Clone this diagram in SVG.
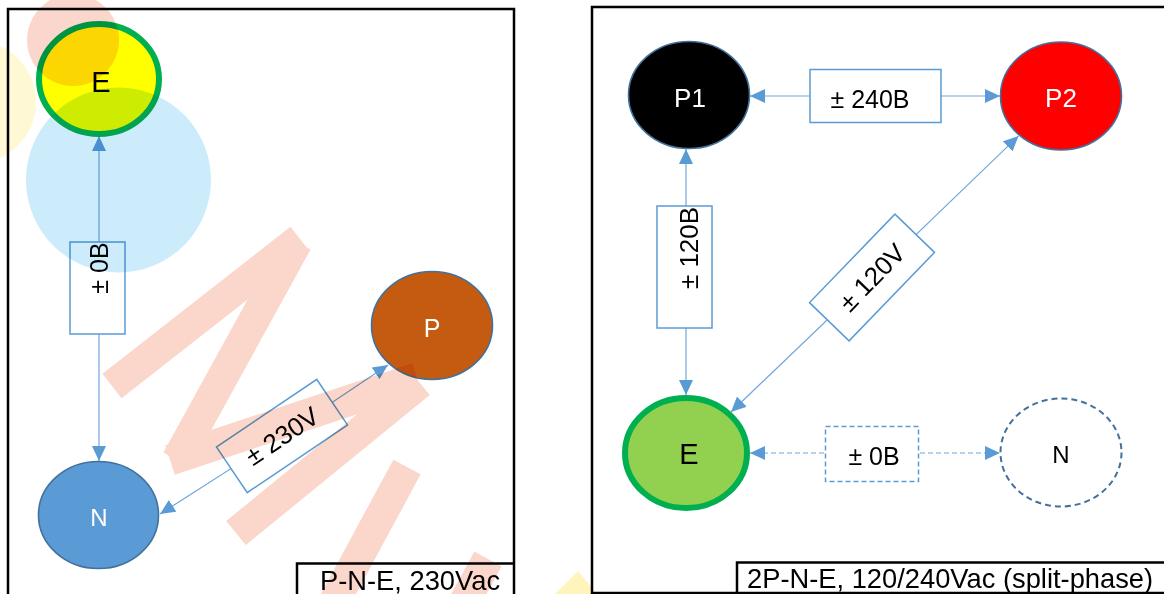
<svg xmlns="http://www.w3.org/2000/svg" width="1164" height="594" viewBox="0 0 1164 594">
  <defs>
    <style>
      .panel{fill:none;stroke:#000;stroke-width:2.5}
      .conn{fill:none;stroke:#6fa6dc;stroke-width:1.2}
      .dash{stroke-dasharray:5 3}
      .lbl{fill:#fff;stroke:#5b9bd5;stroke-width:1.5}
      .node{stroke:#41719c;stroke-width:1.6}
      .earth{stroke:#00b050;stroke-width:6}
      .t{font-family:"Liberation Sans",Arial,sans-serif;text-anchor:middle}
      .cap{font-family:"Liberation Sans",Arial,sans-serif;font-size:27.3px;fill:#000}
      .wm{mix-blend-mode:multiply}
    </style>
    <marker id="arr" markerWidth="15" markerHeight="14" refX="15" refY="7" orient="auto" markerUnits="userSpaceOnUse" viewBox="0 0 15 14">
      <path d="M0,0 L15,7 L0,14 z" fill="#5b9bd5"/>
    </marker>
  </defs>

  <rect width="1164" height="594" fill="#fff"/>

  <!-- panel frames and captions -->
  <g id="frames">
    <path class="panel" d="M8,600 V9 H514 V600"/>
    <path class="panel" d="M297,600 V563.5 H514"/>
    <text class="cap" x="320" y="589.5">P-N-E, 230Vac</text>
    <path class="panel" d="M592,600 V7 H1170 M592,593 H1170"/>
    <path class="panel" d="M737,593 V562.5 H1170"/>
    <text class="cap" x="747" y="587.5">2P-N-E, 120/240Vac (split-phase)</text>
  </g>

  <!-- connectors with their value labels -->
  <g id="connectors">
    <!-- single phase: P-N-E -->
    <line class="conn" x1="99" y1="288" x2="99" y2="136" marker-end="url(#arr)"/>
    <line class="conn" x1="99" y1="288" x2="99" y2="461" marker-end="url(#arr)"/>
    <rect class="lbl" x="70" y="242" width="55" height="92"/>
    <text class="t" font-size="25" transform="translate(108,268) rotate(-90)">± 0B</text>

    <line class="conn" x1="282" y1="436" x2="160" y2="514" marker-end="url(#arr)"/>
    <line class="conn" x1="282" y1="436" x2="388" y2="365" marker-end="url(#arr)"/>
    <g transform="translate(282,436) rotate(-34)">
      <rect class="lbl" x="-60.5" y="-27.5" width="121" height="55"/>
      <text class="t" font-size="26" y="9">± 230V</text>
    </g>

    <!-- split phase: P1-P2-E-N -->
    <line class="conn" x1="875" y1="96" x2="750" y2="96" marker-end="url(#arr)"/>
    <line class="conn" x1="875" y1="96" x2="1000" y2="96" marker-end="url(#arr)"/>
    <rect class="lbl" x="810" y="69.5" width="131" height="53"/>
    <text class="t" font-size="25" x="870" y="108">± 240B</text>

    <line class="conn" x1="686" y1="267" x2="686" y2="149" marker-end="url(#arr)"/>
    <line class="conn" x1="686" y1="267" x2="686" y2="395" marker-end="url(#arr)"/>
    <rect class="lbl" x="657" y="206" width="55" height="122"/>
    <text class="t" font-size="26" transform="translate(698,248) rotate(-90)">± 120B</text>

    <line class="conn" x1="872" y1="277" x2="1018.5" y2="136" marker-end="url(#arr)"/>
    <line class="conn" x1="872" y1="277" x2="731" y2="412" marker-end="url(#arr)"/>
    <g transform="translate(872,277.5) rotate(-46)">
      <rect class="lbl" x="-61.5" y="-27.5" width="123" height="55"/>
      <text class="t" font-size="26" y="9">± 120V</text>
    </g>

    <line class="conn dash" x1="872" y1="453" x2="750" y2="453" marker-end="url(#arr)"/>
    <line class="conn dash" x1="872" y1="453" x2="1000" y2="453" marker-end="url(#arr)"/>
    <rect class="lbl dash" x="825.5" y="426.5" width="93" height="55"/>
    <text class="t" font-size="25" x="874" y="465">± 0B</text>
  </g>

  <!-- single phase nodes -->
  <g id="node-E1">
    <ellipse class="earth" cx="99" cy="79" rx="60" ry="55" fill="#ffff00"/>
    <text class="t" font-size="29" x="101" y="92" fill="#000">E</text>
  </g>
  <g id="node-N1">
    <ellipse class="node" cx="98.5" cy="515" rx="60" ry="53.5" fill="#5b9bd5"/>
    <text class="t" font-size="24" x="99" y="526" fill="#fff">N</text>
  </g>
  <g id="node-P">
    <ellipse class="node" cx="432" cy="325.5" rx="60.5" ry="54" fill="#c55a11"/>
    <text class="t" font-size="25" x="432" y="337" fill="#fff">P</text>
  </g>

  <!-- split phase nodes -->
  <g id="node-P1">
    <ellipse class="node" cx="689" cy="95" rx="60.5" ry="53.5" fill="#000"/>
    <text class="t" font-size="26" x="690" y="107" fill="#fff">P1</text>
  </g>
  <g id="node-P2">
    <ellipse class="node" cx="1061" cy="96" rx="60.5" ry="54" fill="#ff0000"/>
    <text class="t" font-size="26" x="1061" y="107" fill="#fff">P2</text>
  </g>
  <g id="node-E2">
    <ellipse class="earth" cx="686" cy="453" rx="61" ry="55" fill="#92d050"/>
    <text class="t" font-size="29" x="689" y="463.5" fill="#000">E</text>
  </g>
  <g id="node-N2">
    <ellipse cx="1061" cy="452.5" rx="60.5" ry="54" fill="#fff" stroke="#41719c" stroke-width="2" stroke-dasharray="6 4"/>
    <text class="t" font-size="24" x="1061" y="463" fill="#000">N</text>
  </g>

  <!-- translucent background marks, multiplied over the drawing -->
  <g class="wm">
    <circle cx="-26" cy="102" r="62" fill="#fff8d4"/>
    <circle cx="73" cy="40" r="46" fill="#fbd6cc"/>
    <circle cx="118.5" cy="180" r="92.5" fill="#cdecfb"/>
    <g fill="none" stroke="#fbd6ca" stroke-width="31">
      <line x1="112" y1="386" x2="300" y2="239"/>
      <line x1="297" y1="242" x2="177" y2="460"/>
      <line x1="170" y1="460" x2="417" y2="378"/>
      <line x1="420" y1="383" x2="236" y2="533"/>
      <line x1="407" y1="467" x2="333" y2="604"/>
      <line x1="488" y1="559" x2="460" y2="610"/>
    </g>
    <polygon points="549,600 578,571 594,590 592,600" fill="#fff4bc"/>
  </g>
</svg>
